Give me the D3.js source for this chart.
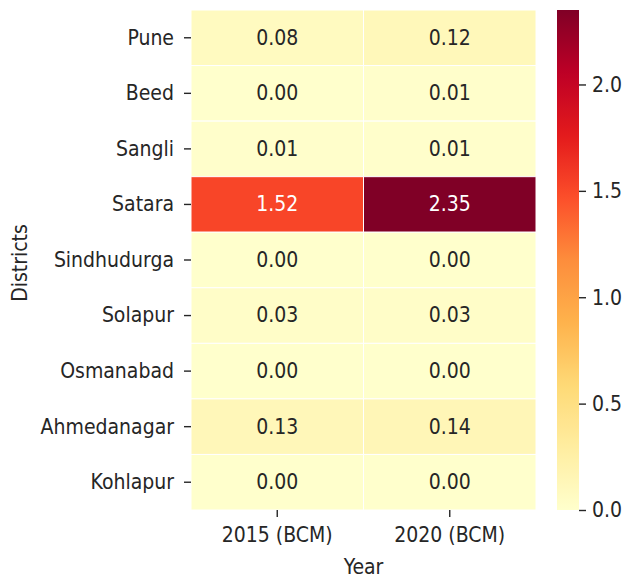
<!DOCTYPE html>
<html>
<head>
<meta charset="utf-8">
<script src="https://cdn.jsdelivr.net/npm/d3@7"></script>
<style>
  html, body { margin: 0; padding: 0; background: #fff; }
  svg { display: block; font-family: "DejaVu Sans Condensed", "DejaVu Sans", sans-serif; }
</style>
</head>
<body>
<svg id="chart" width="624" height="578"></svg>
<script>
const districts = ["Pune", "Beed", "Sangli", "Satara", "Sindhudurga", "Solapur", "Osmanabad", "Ahmedanagar", "Kohlapur"];
const years = ["2015 (BCM)", "2020 (BCM)"];
const values2015 = [0.08, 0.00, 0.01, 1.52, 0.00, 0.03, 0.00, 0.13, 0.00];
const values2020 = [0.12, 0.01, 0.01, 2.35, 0.00, 0.03, 0.00, 0.14, 0.00];
const colorTicks = [0.0, 0.5, 1.0, 1.5, 2.0];
const ylOrRd = ["#ffffcc", "#ffeda0", "#fed976", "#feb24c", "#fd8d3c", "#fc4e2a", "#e31a1c", "#bd0026", "#800026"];

const series = [values2015, values2020];
const cells = [];
districts.forEach((d, i) => {
  years.forEach((yr, j) => cells.push({ district: d, year: yr, value: series[j][i] }));
});

const svg = d3.select("#chart");
const fs = 21;
const ff = "DejaVu Sans Condensed";
const textDark = "#262626";
const pLeft = 191, pRight = 536, pTop = 10, pBottom = 510;

const vmax = d3.max(cells, c => c.value);
const x = d3.scaleBand().domain(years).range([pLeft, pRight]);
const y = d3.scaleBand().domain(districts).range([pTop, pBottom]);
const color = d3.scaleLinear()
  .domain(ylOrRd.map((_, i) => i / (ylOrRd.length - 1) * vmax))
  .range(ylOrRd)
  .interpolate(d3.interpolateRgb)
  .clamp(true);

// cells
svg.append("g").selectAll("rect").data(cells).join("rect")
  .attr("x", d => x(d.year))
  .attr("y", d => y(d.district))
  .attr("width", x.bandwidth())
  .attr("height", y.bandwidth())
  .attr("fill", d => color(d.value))
  .attr("stroke", "#fff")
  .attr("stroke-width", 1);

// annotations
function lum(c) {
  const rgb = d3.rgb(c);
  const f = v => { v /= 255; return v <= 0.03928 ? v / 12.92 : Math.pow((v + 0.055) / 1.055, 2.4); };
  return 0.2126 * f(rgb.r) + 0.7152 * f(rgb.g) + 0.0722 * f(rgb.b);
}
svg.append("g").selectAll("text").data(cells).join("text")
  .attr("x", d => x(d.year) + x.bandwidth() / 2)
  .attr("y", d => y(d.district) + y.bandwidth() / 2)
  .attr("dy", "0.33em")
  .attr("text-anchor", "middle")
  .attr("font-size", fs)
  .attr("font-family", ff)
  .attr("fill", d => lum(color(d.value)) > 0.408 ? textDark : "#ffffff")
  .text(d => d3.format(".2f")(d.value));

// y axis
const yAxis = d3.axisLeft(y).tickSize(7).tickPadding(10);
const gy = svg.append("g").attr("transform", `translate(${pLeft},0)`).call(yAxis);
gy.select(".domain").remove();
gy.selectAll(".tick line").attr("stroke", textDark).attr("stroke-width", 1.4);
gy.selectAll(".tick text").attr("font-size", fs).attr("fill", textDark)
  .attr("font-family", ff).attr("dy", "0.33em");

// x axis
const xAxis = d3.axisBottom(x).tickSize(7).tickPadding(10);
const gx = svg.append("g").attr("transform", `translate(0,${pBottom})`).call(xAxis);
gx.select(".domain").remove();
gx.selectAll(".tick line").attr("stroke", textDark).attr("stroke-width", 1.4);
gx.selectAll(".tick text").attr("font-size", fs).attr("fill", textDark)
  .attr("font-family", ff).attr("dy", "0.71em");

// axis labels
svg.append("text")
  .attr("x", (pLeft + pRight) / 2).attr("y", 574)
  .attr("text-anchor", "middle").attr("font-size", fs).attr("fill", textDark)
  .attr("font-family", ff)
  .text("Year");
svg.append("text")
  .attr("transform", "translate(27,263) rotate(-90)")
  .attr("text-anchor", "middle").attr("font-size", fs).attr("fill", textDark)
  .attr("font-family", ff)
  .text("Districts");

// colorbar
const cbx = 557, cbw = 22;
const cy = d3.scaleLinear().domain([0, vmax]).range([pBottom, pTop]);
const defs = svg.append("defs");
const grad = defs.append("linearGradient").attr("id", "cbgrad")
  .attr("x1", 0).attr("y1", 1).attr("x2", 0).attr("y2", 0);
d3.range(0, 1.0001, 0.02).forEach(t => {
  grad.append("stop").attr("offset", t).attr("stop-color", color(t * vmax));
});
svg.append("rect")
  .attr("x", cbx).attr("y", pTop).attr("width", cbw).attr("height", pBottom - pTop)
  .attr("fill", "url(#cbgrad)");
const cAxis = d3.axisRight(cy).tickValues(colorTicks).tickFormat(d3.format(".1f")).tickSize(7).tickPadding(6);
const gc = svg.append("g").attr("transform", `translate(${cbx + cbw},0)`).call(cAxis);
gc.select(".domain").remove();
gc.selectAll(".tick line").attr("stroke", textDark).attr("stroke-width", 1.4);
gc.selectAll(".tick text").attr("font-size", fs).attr("fill", textDark)
  .attr("font-family", ff).attr("dy", "0.33em");
</script>
</body>
</html>
